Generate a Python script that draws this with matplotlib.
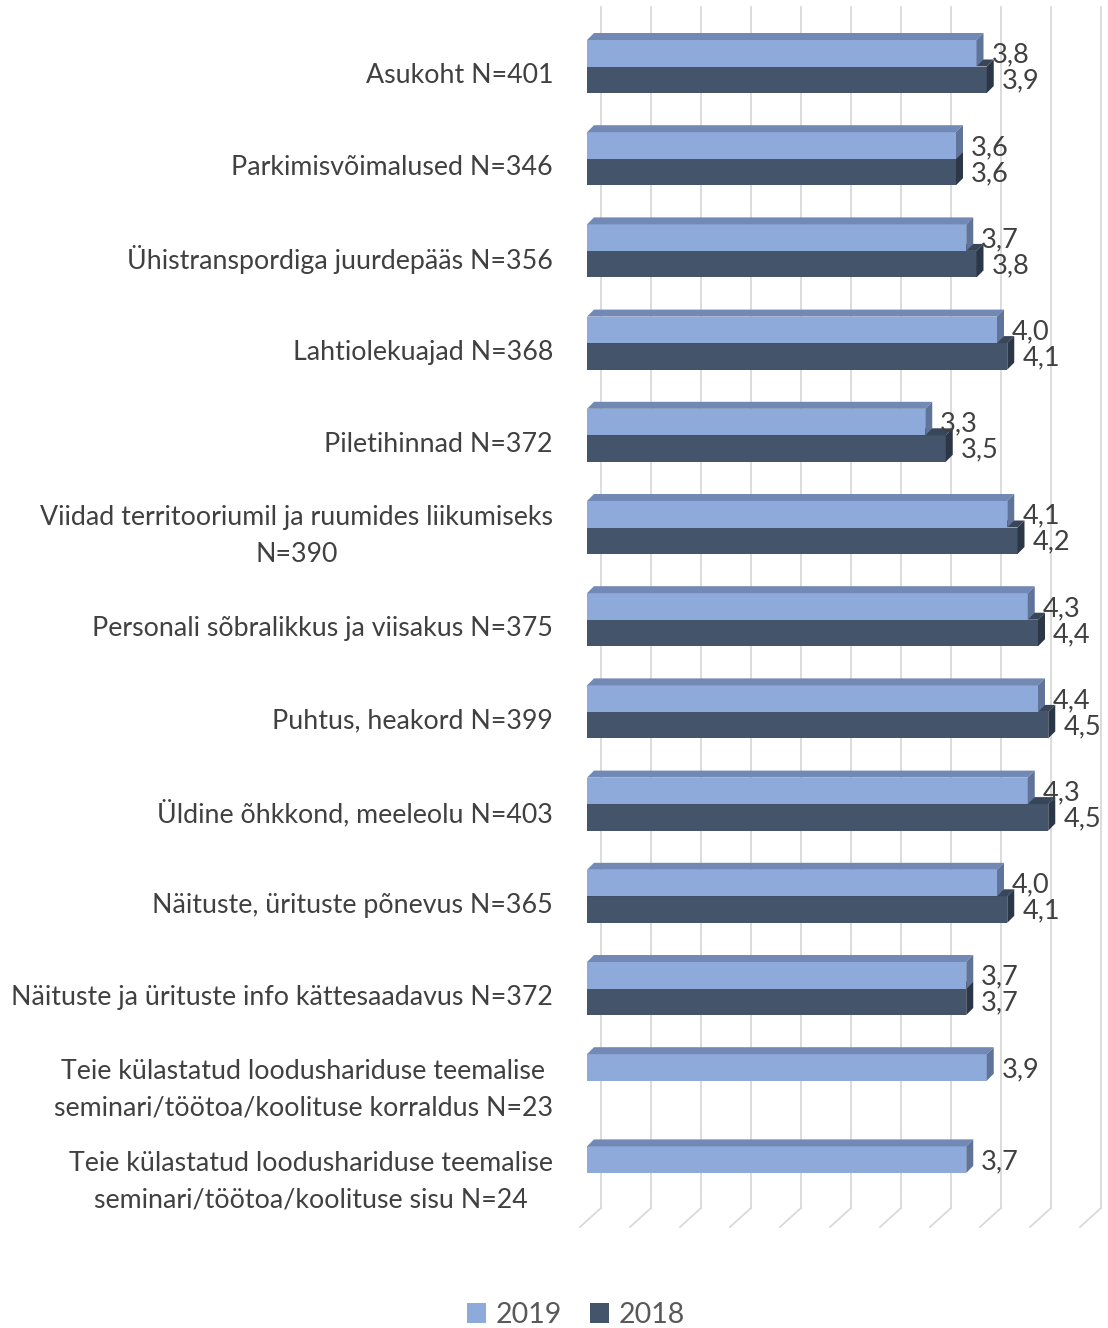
import numpy as np
import matplotlib.pyplot as plt
from matplotlib.patches import Polygon, Patch

categories = [
    "Asukoht N=401",
    "Parkimisvõimalused N=346",
    "Ühistranspordiga juurdepääs N=356",
    "Lahtiolekuajad N=368",
    "Piletihinnad N=372",
    "Viidad territooriumil ja ruumides liikumiseks\nN=390",
    "Personali sõbralikkus ja viisakus N=375",
    "Puhtus, heakord N=399",
    "Üldine õhkkond, meeleolu N=403",
    "Näituste, ürituste põnevus N=365",
    "Näituste ja ürituste info kättesaadavus N=372",
    "Teie külastatud loodushariduse teemalise\nseminari/töötoa/koolituse korraldus N=23",
    "Teie külastatud loodushariduse teemalise\nseminari/töötoa/koolituse sisu N=24",
]
v2019 = [3.8, 3.6, 3.7, 4.0, 3.3, 4.1, 4.3, 4.4, 4.3, 4.0, 3.7, 3.9, 3.7]
v2018 = [3.9, 3.6, 3.8, 4.1, 3.5, 4.2, 4.4, 4.5, 4.5, 4.1, 3.7, np.nan, np.nan]
grid_vals = np.arange(0, 5.01, 0.5)

col19 = ("#8eaadb", "#7189b4", "#5f7498")
col18 = ("#44546a", "#38465a", "#2b3646")
text_col = "#404040"

W, H = 1108, 1328
fig = plt.figure(figsize=(W / 100, H / 100), dpi=100)
plt.rcParams['font.family'] = ['Lato', 'DejaVu Sans']

# axes mapped roughly to pixels: x 1 unit ~ 102.5 px, y 1 category ~ 92.2 px
x0_px = 587
px_x = 102.5
px_y = 92.2
c0_px = 66.5
bottom_px = 1250
ax = fig.add_axes([x0_px / W, 1 - bottom_px / H, (W - x0_px) / W, bottom_px / H])
ax.set_xlim(0, (W - x0_px) / px_x)
ax.set_ylim((bottom_px - c0_px) / px_y, -c0_px / px_y)
ax.axis('off')


def ux(px):
    return px / px_x


def uy(px):
    return px / px_y


# back wall gridlines and floor
gtop = uy(7 - c0_px)
gfloor = uy(1208 - c0_px)
gfront = uy(1227 - c0_px)
for g in grid_vals:
    xb = ux(g * 100 + 14)
    ax.plot([xb, xb], [gtop, gfloor], color="#d9d9d9", lw=1.3, zorder=0, clip_on=False)
    ax.plot([xb, xb - ux(21)], [gfloor, gfront], color="#d9d9d9", lw=1.3, zorder=0, clip_on=False)

bh = uy(26.5)
dx, dy = ux(7), uy(7)


def bar3d(val, ytop, cols, z):
    front, top, side = cols
    yb = ytop + bh
    ax.add_patch(Polygon([(0, ytop), (val, ytop), (val, yb), (0, yb)], closed=True,
                         facecolor=front, edgecolor="none", zorder=z))
    ax.add_patch(Polygon([(0, ytop), (dx, ytop - dy), (val + dx, ytop - dy), (val, ytop)],
                         closed=True, facecolor=top, edgecolor="none", zorder=z))
    ax.add_patch(Polygon([(val, ytop), (val + dx, ytop - dy), (val + dx, yb - dy), (val, yb)],
                         closed=True, facecolor=side, edgecolor="none", zorder=z))


def fmt(v):
    return f"{v:.1f}".replace('.', ',')


for i, cat in enumerate(categories):
    if not np.isnan(v2018[i]):
        bar3d(v2018[i], i, col18, 2)
        ax.text(v2018[i] + ux(15), i + bh / 2 + uy(1.5), fmt(v2018[i]), va='center', ha='left',
                fontsize=19.5, color=text_col, zorder=5)
    bar3d(v2019[i], i - bh, col19, 3)
    ax.text(v2019[i] + ux(15), i - bh / 2 + uy(2), fmt(v2019[i]), va='center', ha='left',
            fontsize=19.5, color=text_col, zorder=5)
    ax.text(-ux(34), i + uy(9), cat, ha='right', va='center', multialignment='center',
            fontsize=19.3, color=text_col, linespacing=1.6, clip_on=False)

handles = [Patch(facecolor=col19[0], label="2019"), Patch(facecolor=col18[0], label="2018")]
fig.legend(handles=handles, loc='center', bbox_to_anchor=(0.52, 1 - 1315 / H), ncol=2,
           frameon=False, fontsize=20.5, handlelength=0.65, handleheight=0.65,
           handletextpad=0.35, columnspacing=1.0, labelcolor="#595959")

fig.savefig("out.png", dpi=100)
